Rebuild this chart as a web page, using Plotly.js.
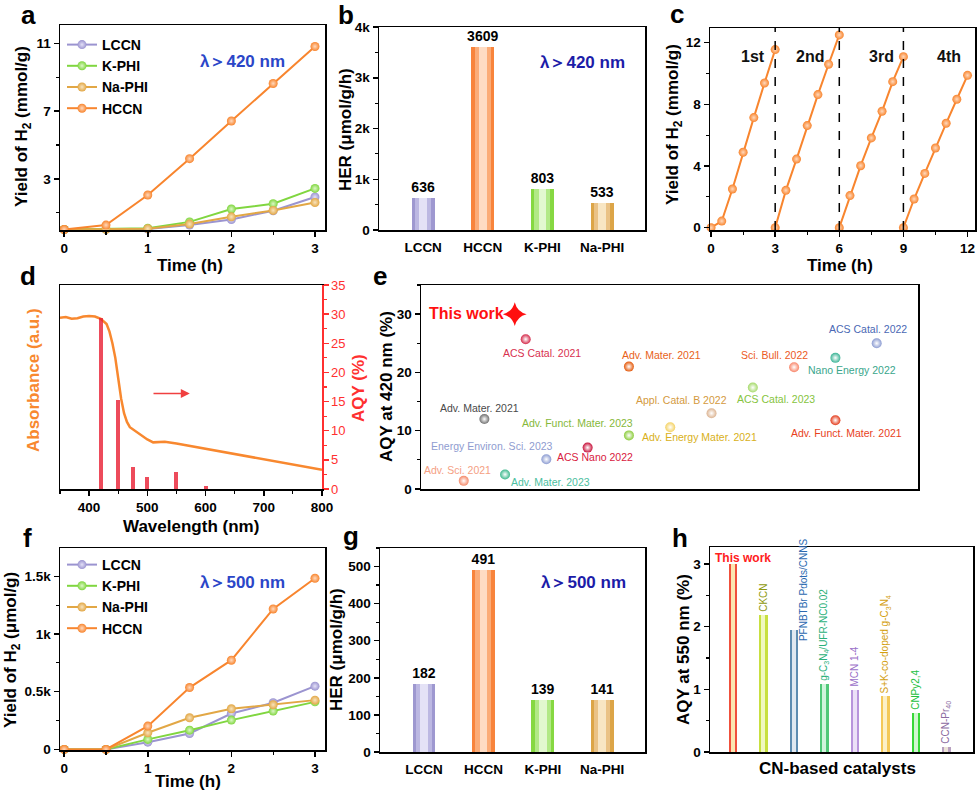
<!DOCTYPE html>
<html>
<head>
<meta charset="utf-8">
<script src="https://cdn.plot.ly/plotly-3.0.1.min.js"></script>
<style>body{margin:0;background:#fff}#fig{width:980px;height:794px}</style>
</head>
<body>
<div id="fig"></div>
<script>
var FONT = 'Liberation Sans, Arial, sans-serif';

// a / f : time course
var timeH = [0, 0.5, 1, 1.5, 2, 2.5, 3];
var seriesNames = ['LCCN', 'K-PHI', 'Na-PHI', 'HCCN'];
var visLCCN = [0, 0.01, 0.03, 0.26, 0.59, 1.11, 1.92];
var visKPHI = [0, 0.02, 0.08, 0.45, 1.21, 1.52, 2.43];
var visNaPHI = [0, 0.01, 0.05, 0.32, 0.75, 1.13, 1.60];
var visHCCN = [0, 0.26, 2.04, 4.19, 6.42, 8.64, 10.83];
var redLCCN = [0, 0, 63, 138, 311, 404, 548];
var redKPHI = [0, 0, 87, 167, 254, 332, 412];
var redNaPHI = [0, 0, 144, 274, 352, 387, 427];
var redHCCN = [0, 0, 202, 536, 773, 1217, 1483];

// b / g : HER bars
var catNames = ['LCCN', 'HCCN', 'K-PHI', 'Na-PHI'];
var her420 = [636, 3609, 803, 533];
var her500 = [182, 491, 139, 141];

// c : cycling
var cycleStart = [0, 3, 6, 9];
var cycleLabels = ['1st', '2nd', '3rd', '4th'];
var cycle1 = [0, 0.43, 2.51, 4.89, 7.14, 9.38, 11.55];
var cycle2 = [0, 2.42, 4.45, 6.62, 8.63, 10.6, 12.5];
var cycle3 = [0, 2.08, 4.02, 5.82, 7.55, 9.47, 11.09];
var cycle4 = [0, 1.86, 3.52, 5.17, 6.77, 8.33, 9.88];

// d : absorbance + AQY
var wavelength = [350, 360, 370, 380, 390, 400, 410, 420, 430, 435, 440, 445, 450, 455, 460, 465, 470, 480, 490, 500, 510, 520, 530, 550, 600, 650, 700, 750, 800];
var absorbance = [29.4, 29.5, 29.2, 29.3, 29.6, 29.7, 29.6, 29.2, 28.3, 27.0, 25.0, 22.5, 19.0, 15.5, 13.0, 11.5, 10.6, 9.9, 9.2, 8.5, 8.0, 8.1, 8.1, 7.8, 6.9, 5.9, 5.0, 4.2, 3.3];
var aqyWl = [420, 450, 475, 500, 550, 600];
var aqyVal = [29.3, 15.3, 3.8, 2.0, 3.0, 0.5];

// e : literature comparison at 420 nm
var eNames = ['Adv. Sci. 2021', 'Adv. Mater. 2021', 'Adv. Mater. 2023', 'ACS Catal. 2021', 'Energy Environ. Sci. 2023', 'ACS Nano 2022', 'Adv. Funct. Mater. 2023', 'Adv. Mater. 2021', 'Adv. Energy Mater. 2021', 'Appl. Catal. B 2022', 'ACS Catal. 2023', 'Sci. Bull. 2022', 'Adv. Funct. Mater. 2021', 'Nano Energy 2022', 'ACS Catal. 2022'];
var eOrder = [2, 3, 4, 5, 6, 8, 10, 10, 12, 14, 16, 18, 20, 20, 22];
var eAQY = [1.4, 12.0, 2.5, 25.7, 5.1, 7.1, 9.2, 21.0, 10.6, 13.0, 17.4, 20.9, 11.8, 22.5, 25.0];
var thisWork420 = 30;

// h : literature comparison at 550 nm
var hNames = ['This work', 'CKCN', 'PFNBTBr Pdots/CNNS', 'g-C<sub>3</sub>N<sub>4</sub>/UFR-NC0.02', 'MCN 1-4', 'S+K-co-doped g-C<sub>3</sub>N<sub>4</sub>', 'CNPy2,4', 'CCN-Pr<sub>40</sub>'];
var hAQY = [3.0, 2.19, 1.95, 1.09, 0.99, 0.89, 0.62, 0.08];

// colours
var lineColors = ['#9b94d0', '#80d640', '#e2a745', '#f8852e'];
var lineTints = ['#e4e1f7', '#dcf7c6', '#f8e3bd', '#ffd9bd'];
var barColors = ['#9e98d0', '#f8843c', '#86d842', '#dca548'];
var barMid = ['#bcb8e2', '#fbac78', '#b2e986', '#eac286'];
var barLight = ['#e4e2f6', '#fedcc4', '#e2f8cf', '#f8e6c4'];
var eDot = ['#f58a6a', '#707070', '#3cb88c', '#d42a4a', '#8c9cd2', '#c8143c', '#8ccc3c', '#e45a0c', '#f4d264', '#dcb492', '#a6da6c', '#f8866a', '#e43c1c', '#3cb496', '#8c9cd2'];
var eText = ['#f5a083', '#4a4a4a', '#4cc0a0', '#d8304e', '#8f9cd0', '#d8203e', '#86b83a', '#e8621a', '#d8b020', '#d49a40', '#86c440', '#ec5a24', '#e8421c', '#3aa68c', '#4a68b4'];
var eLabX = [1.71, 2.76, 4.18, 5.79, 6.44, 8.37, 10.3, 11.56, 10.52, 12.56, 17.1, 17.05, 20.55, 20.8, 21.6];
var eLabY = [3.2, 13.9, 1.26, 23.4, 7.3, 5.43, 11.3, 23.0, 8.86, 15.2, 15.5, 23.0, 9.6, 20.5, 27.4];
var eLabAnchor = ['center', 'center', 'left', 'center', 'right', 'center', 'right', 'center', 'left', 'center', 'center', 'center', 'center', 'center', 'center'];
var hColors = ['#f0503c', '#c8e040', '#5e8cb0', '#50c878', '#b894dc', '#f4c858', '#38d838', '#b8a0c0'];
var hLight = ['#fbe6b0', '#f0f8c0', '#e0e8f0', '#d0f4dc', '#ece0f8', '#fcf0c8', '#d0f8d0', '#ece4d8'];
var hText = ['#ff2020', '#8e9a10', '#2c6ab0', '#2ab07a', '#9a70c8', '#d4a010', '#22c040', '#8a6aa0'];

function fx(p) { return p / 980; }
function fy(p) { return 1 - p / 794; }

function axis(extra, minor) {
  var a = {
    showline: true, linecolor: '#000', linewidth: 1.5, mirror: true,
    ticks: 'outside', ticklen: 5, tickwidth: 1.5, tickcolor: '#000',
    showgrid: false, zeroline: false,
    tickfont: {family: FONT, size: 13.5, color: '#000', weight: 'bold'}
  };
  if (minor) {
    a.minor = Object.assign({ticks: 'outside', ticklen: 3, tickwidth: 1.2, tickcolor: '#000', showgrid: false}, minor);
  }
  return Object.assign(a, extra);
}

var traces = [];

function addLines(data, xa, ya, leg) {
  data.forEach(function (ys, i) {
    traces.push({
      type: 'scatter', mode: 'lines+markers', x: timeH, y: ys, name: seriesNames[i],
      xaxis: xa, yaxis: ya, legend: leg, cliponaxis: false,
      line: {color: lineColors[i], width: 2},
      marker: {size: 9, color: lineColors[i], gradient: {type: 'radial', color: lineTints[i]}, line: {width: 0}}
    });
  });
}
addLines([visLCCN, visKPHI, visNaPHI, visHCCN], 'x', 'y', 'legend');
addLines([redLCCN, redKPHI, redNaPHI, redHCCN], 'x6', 'y7', 'legend2');

function addBars(vals, xa, ya) {
  traces.push({
    type: 'bar', x: catNames, y: vals, width: 0.385, xaxis: xa, yaxis: ya, showlegend: false,
    marker: {color: barColors, line: {width: 0}}, cliponaxis: false,
    text: vals.map(String), textposition: 'outside', constraintext: 'none',
    textfont: {family: FONT, size: 14, weight: 'bold', color: '#000'}
  });
  traces.push({
    type: 'bar', x: catNames, y: vals, width: 0.27, xaxis: xa, yaxis: ya, showlegend: false,
    marker: {color: barMid, line: {width: 0}}
  });
  traces.push({
    type: 'bar', x: catNames, y: vals, width: 0.13, xaxis: xa, yaxis: ya, showlegend: false,
    marker: {color: barLight, line: {width: 0}}
  });
}
addBars(her420, 'x2', 'y2');
addBars(her500, 'x7', 'y8');

[cycle1, cycle2, cycle3, cycle4].forEach(function (ys, k) {
  traces.push({
    type: 'scatter', mode: 'lines+markers', showlegend: false, cliponaxis: false,
    x: timeH.map(function (t) { return t + cycleStart[k]; }), y: ys, xaxis: 'x3', yaxis: 'y3',
    line: {color: '#f8852e', width: 2},
    marker: {size: 9, color: '#f8852e', gradient: {type: 'radial', color: '#ffd9bd'}, line: {width: 0}}
  });
});

traces.push({
  type: 'bar', x: aqyWl, y: aqyVal, width: 7, xaxis: 'x4', yaxis: 'y5', showlegend: false,
  marker: {color: 'rgba(232,30,50,0.8)', line: {width: 0}}
});
traces.push({
  type: 'scatter', mode: 'lines', x: wavelength, y: absorbance, xaxis: 'x4', yaxis: 'y4', showlegend: false,
  line: {color: '#f8882f', width: 2.5}
});

traces.push({
  type: 'scatter', mode: 'markers', x: eOrder, y: eAQY, xaxis: 'x5', yaxis: 'y6', showlegend: false,
  cliponaxis: false, text: eNames,
  marker: {size: 10, color: eDot, gradient: {type: 'radial', color: '#ffffff'}, line: {width: 0}}
});
traces.push({
  type: 'scatter', mode: 'markers', x: [4.47], y: [thisWork420], xaxis: 'x5', yaxis: 'y6', showlegend: false,
  marker: {size: 17, color: '#ff1010', symbol: 'star-diamond', line: {width: 0}}
});

var hIdx = hNames.map(function (_, i) { return i; });
traces.push({
  type: 'bar', x: hIdx, y: hAQY, width: 0.27, xaxis: 'x8', yaxis: 'y9', showlegend: false,
  marker: {color: hColors, line: {width: 0}}
});
traces.push({
  type: 'bar', x: hIdx, y: hAQY, width: 0.13, xaxis: 'x8', yaxis: 'y9', showlegend: false,
  marker: {color: hLight, line: {width: 0}}
});

var ann = [];
[['a', 28, 15], ['b', 346, 15], ['c', 677, 14], ['d', 28, 276], ['e', 380, 276], ['f', 27, 538], ['g', 351, 536], ['h', 680, 538]].forEach(function (l) {
  ann.push({text: l[0], xref: 'paper', yref: 'paper', x: fx(l[1]), y: fy(l[2]), showarrow: false,
    xanchor: 'center', yanchor: 'middle', font: {family: FONT, size: 26, weight: 'bold', color: '#000'}});
});

// axis titles, placed where the reference has them
[
  ['Yield of H<sub>2</sub> (mmol/g)', 23, 127, -90, '#000'],
  ['Time (h)', 190, 265, 0, '#000'],
  ['HER (μmol/g/h)', 345, 130, -90, '#000'],
  ['Yield of H<sub>2</sub> (mmol/g)', 674, 125, -90, '#000'],
  ['Time (h)', 840, 265, 0, '#000'],
  ['Absorbance (a.u.)', 33, 380, -90, '#f8882f'],
  ['AQY (%)', 358, 388, -90, '#ff3030'],
  ['Wavelength (nm)', 191, 526, 0, '#000'],
  ['AQY at 420 nm (%)', 386, 387, -90, '#000'],
  ['Yield of H<sub>2</sub> (μmol/g)', 12, 650, -90, '#000'],
  ['Time (h)', 188, 781, 0, '#000'],
  ['HER (μmol/g/h)', 336, 650, -90, '#000'],
  ['AQY at 550 nm (%)', 683, 650, -90, '#000'],
  ['CN-based catalysts', 837, 768, 0, '#000']
].forEach(function (t) {
  ann.push({text: t[0], xref: 'paper', yref: 'paper', x: fx(t[1]), y: fy(t[2]), showarrow: false,
    textangle: t[3], xanchor: 'center', yanchor: 'middle',
    font: {family: FONT, size: 17, weight: 'bold', color: t[4]}});
});

function lam(text, xa, ya, x, y, color) {
  ann.push({text: text, xref: xa, yref: ya, x: x, y: y, showarrow: false,
    font: {family: FONT, size: 17, weight: 'bold', color: color}});
}
lam('λ＞420 nm', 'x', 'y', 2.13, 9.93, '#2b46c8');
lam('λ＞420 nm', 'x2', 'y2', 2.68, 3310, '#1c1ca8');
lam('λ＞500 nm', 'x6', 'y7', 2.13, 1448, '#2b46c8');
lam('λ＞500 nm', 'x7', 'y8', 2.68, 456, '#1c1ca8');

cycleLabels.forEach(function (t, k) {
  ann.push({text: t, xref: 'x3', yref: 'y3', x: cycleStart[k] + [1.97, 1.64, 1.96, 2.15][k], y: 11.08, showarrow: false,
    font: {family: FONT, size: 16, weight: 'bold', color: '#111'}});
});

ann.push({text: '', xref: 'x4', yref: 'y5', axref: 'x4', ayref: 'y5', x: 573, y: 16.4, ax: 508, ay: 16.4,
  showarrow: true, arrowhead: 2, arrowsize: 1.2, arrowwidth: 1.5, arrowcolor: '#f04040'});

eNames.forEach(function (n, i) {
  ann.push({text: n, xref: 'x5', yref: 'y6', x: eLabX[i], y: eLabY[i], showarrow: false,
    xanchor: eLabAnchor[i], yanchor: 'middle',
    font: {family: FONT, size: 10.5, color: eText[i]}});
});
ann.push({text: 'This work', xref: 'x5', yref: 'y6', x: 2.13, y: 30.06, showarrow: false,
  font: {family: FONT, size: 16, weight: 'bold', color: '#ff1010'}});

hNames.forEach(function (n, i) {
  if (i === 0) {
    ann.push({text: n, xref: 'x8', yref: 'y9', x: 0.33, y: 3.1, showarrow: false,
      font: {family: FONT, size: 12, weight: 'bold', color: hText[i]}});
    return;
  }
  ann.push({text: n, xref: 'x8', yref: 'y9', x: i === 2 ? i + 0.3 : i, y: i === 2 ? 1.73 : hAQY[i] + 0.02,
    showarrow: false, textangle: -90, xanchor: 'center', yanchor: 'bottom',
    font: {family: FONT, size: 10, color: hText[i]}});
});

var shapes = cycleStart.slice(1).map(function (s) {
  return {type: 'line', xref: 'x3', yref: 'y3 domain', x0: s, x1: s, y0: 0, y1: 1,
    line: {color: '#000', width: 1.5, dash: 'dash'}};
});

var legendStyle = {
  bgcolor: 'rgba(0,0,0,0)', xanchor: 'left', yanchor: 'top', tracegroupgap: 0, itemwidth: 30,
  font: {family: FONT, size: 14, weight: 'bold', color: '#000'}
};

var layout = {
  width: 980, height: 794, margin: {l: 0, r: 0, t: 0, b: 0},
  paper_bgcolor: '#fff', plot_bgcolor: 'rgba(0,0,0,0)',
  font: {family: FONT}, barmode: 'overlay', bargap: 0,
  legend: Object.assign({x: fx(62), y: fy(29)}, legendStyle),
  legend2: Object.assign({x: fx(62), y: fy(549)}, legendStyle),
  xaxis: axis({domain: [fx(60), fx(325)], anchor: 'y', range: [-0.05, 3.12], tickvals: [0, 1, 2, 3]}, {dtick: 0.5}),
  yaxis: axis({domain: [fy(230), fy(25)], anchor: 'x', range: [-0.03, 12.1], tickvals: [3, 7, 11]}, {tickvals: [1, 5, 9]}),
  xaxis2: axis({domain: [fx(379), fx(645)], anchor: 'y2', type: 'category', range: [-0.74, 3.72], ticks: '', ticklabelstandoff: 4}),
  yaxis2: axis({domain: [fy(230), fy(27)], anchor: 'x2', range: [0, 4000], tickvals: [0, 1000, 2000, 3000, 4000], ticktext: ['0', '1k', '2k', '3k', '4k']}, {dtick: 500}),
  xaxis3: axis({domain: [fx(710), fx(975)], anchor: 'y3', range: [-0.05, 12.35], dtick: 3}, {dtick: 1.5}),
  yaxis3: axis({domain: [fy(230), fy(28)], anchor: 'x3', range: [-0.15, 12.95], dtick: 4}, {dtick: 2}),
  xaxis4: axis({domain: [fx(60), fx(322)], anchor: 'y4', range: [350, 800], tick0: 400, dtick: 100}, {dtick: 50}),
  yaxis4: axis({domain: [fy(489), fy(285)], anchor: 'x4', range: [0, 35], mirror: false, ticks: '', showticklabels: false}),
  yaxis5: axis({overlaying: 'y4', side: 'right', anchor: 'x4', range: [0, 35], dtick: 5, mirror: false, linecolor: '#ff3030', tickcolor: '#ff3030',
    tickfont: {family: FONT, size: 13, color: '#ff3030'}}, {dtick: 2.5, tickcolor: '#ff3030'}),
  xaxis5: axis({domain: [fx(421), fx(918)], anchor: 'y6', range: [-0.07, 24], ticks: '', showticklabels: false}),
  yaxis6: axis({domain: [fy(489), fy(285)], anchor: 'x5', range: [0, 35], dtick: 10}, {dtick: 5}),
  xaxis6: axis({domain: [fx(60), fx(325)], anchor: 'y7', range: [-0.05, 3.12], tickvals: [0, 1, 2, 3]}, {dtick: 0.5}),
  yaxis7: axis({domain: [fy(750), fy(548)], anchor: 'x6', range: [-5, 1745], tickvals: [0, 500, 1000, 1500], ticktext: ['0', '0.5k', '1k', '1.5k']}, {dtick: 250}),
  xaxis7: axis({domain: [fx(380), fx(645)], anchor: 'y8', type: 'category', range: [-0.74, 3.72], ticks: '', ticklabelstandoff: 4}),
  yaxis8: axis({domain: [fy(752), fy(548)], anchor: 'x7', range: [0, 550], dtick: 100}, {dtick: 50}),
  xaxis8: axis({domain: [fx(710), fx(973)], anchor: 'y9', range: [-0.75, 7.87], ticks: '', showticklabels: false}),
  yaxis9: axis({domain: [fy(752), fy(547)], anchor: 'x8', range: [0, 3.27], dtick: 1}, {dtick: 0.5}),
  annotations: ann,
  shapes: shapes
};

Plotly.newPlot('fig', traces, layout, {staticPlot: true});
</script>
</body>
</html>
